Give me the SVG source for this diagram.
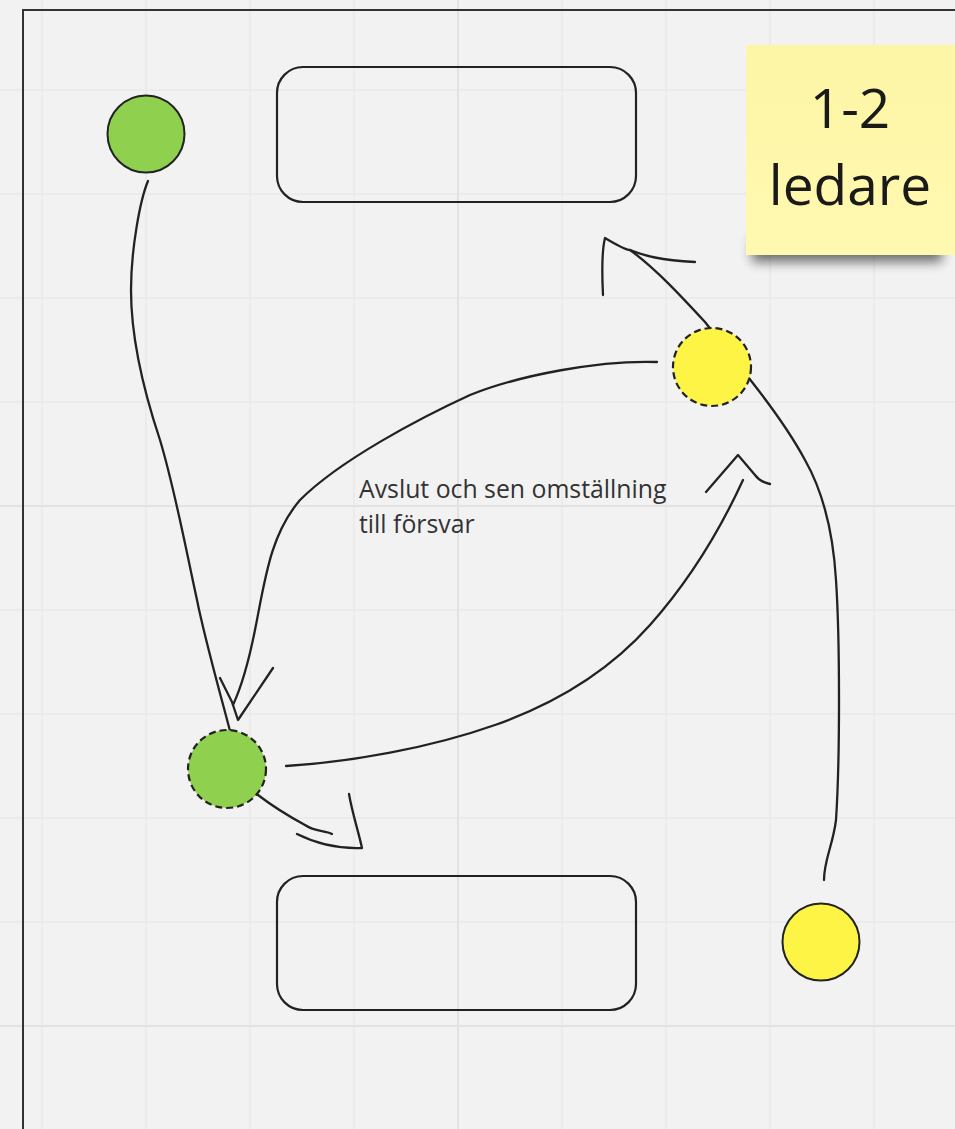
<svg xmlns="http://www.w3.org/2000/svg" width="955" height="1129" viewBox="0 0 955 1129">
<defs>
<style>
.grid{stroke:#e9e9e9;stroke-width:1.5}
.major{stroke:#e2e2e2;stroke-width:2}
.edge{fill:none;stroke:#222;stroke-width:2.3;stroke-linecap:round;stroke-linejoin:round}
.solid{stroke:#222;stroke-width:2}
.dashed{stroke:#222;stroke-width:2.2;stroke-dasharray:7 4}
.box{fill:none;stroke:#222;stroke-width:2.2}
.green{fill:#8fd14f}
.yellow{fill:#fef445}
.lbl{font-family:"Open Sans","Noto Sans",sans-serif;fill:#333;font-size:24.8px}
.sticky-t{font-family:"Open Sans","Noto Sans",sans-serif;fill:#1a1a1a;font-size:55px;text-anchor:middle}
</style>
<filter id="sh" x="-20%" y="-60%" width="140%" height="220%">
<feGaussianBlur stdDeviation="6"/>
</filter>
<linearGradient id="stk" x1="0" y1="0" x2="0" y2="1">
<stop offset="0" stop-color="#fdf6a6"/>
<stop offset="1" stop-color="#fff8b0"/>
</linearGradient>
</defs>
<rect width="955" height="1129" fill="#f2f2f2"/>
<g id="grid">
<path class="grid" d="M42,0V1129M146,0V1129M250,0V1129M354,0V1129M562,0V1129M666,0V1129M770,0V1129M874,0V1129M0,90H955M0,194H955M0,298H955M0,402H955M0,610H955M0,714H955M0,818H955M0,922H955"/>
<path class="major" d="M458,0V1129M0,506H955M0,1026H955"/>
</g>
<path id="frame" d="M23,1129V10H955" fill="none" stroke="#333" stroke-width="2"/>
<g id="connectors">
<path class="edge" d="M148,181 C140,200 131,250 131,290 C131,340 145,395 160,440 C175,490 185,545 197,600 C205,640 222,700 230,731"/>
<path class="edge" d="M657,362 C600,360 520,375 470,395 C420,418 340,460 300,500 C270,535 265,580 255,630 C248,665 240,690 233,705"/>
<path class="edge" d="M220,678 L232,702 L238,720 L273,668"/>
<path class="edge" d="M286,766 C350,762 430,748 495,725 C560,702 610,670 650,625 C690,580 720,530 743,480"/>
<path class="edge" d="M706,492 L738,455 L755,475 Q760,482 770,484"/>
<path class="edge" d="M824,880 C824,860 833,845 836,820 C840,760 840,640 836,580 C833,530 822,490 805,460 C790,432 770,405 752,382 L705,322 C680,295 655,268 630,250"/>
<path class="edge" d="M603,295 C602,275 602,250 605,238 C615,244 625,250 630,250 C645,256 660,260 695,262"/>
<path class="edge" d="M258,795 C275,808 292,818 305,825 C315,832 325,830 332,834"/>
<path class="edge" d="M297,834 C315,843 335,849 362,848 C358,830 352,812 349,794"/>
</g>
<g id="node-green-top"><circle class="green solid" cx="146" cy="134" r="38.5"/></g>
<g id="node-rect-top"><rect class="box" x="277" y="67" width="359" height="135" rx="26"/></g>
<g id="node-sticky">
<rect x="752" y="238" width="190" height="24" fill="#000" opacity="0.55" filter="url(#sh)"/>
<rect x="746" y="45" width="209" height="210" fill="url(#stk)"/>
<text class="sticky-t" x="850" y="128">1-2</text>
<text class="sticky-t" x="850" y="205">ledare</text>
</g>
<g id="node-yellow-dashed"><circle class="yellow dashed" cx="712" cy="367" r="39"/></g>
<g id="node-green-dashed"><circle class="green dashed" cx="227" cy="769" r="39"/></g>
<g id="node-rect-bottom"><rect class="box" x="277" y="876" width="359" height="134" rx="26"/></g>
<g id="node-yellow-bottom"><circle class="yellow solid" cx="821" cy="942" r="38.5"/></g>
<g id="label">
<text class="lbl" x="359" y="498">Avslut och sen omställning</text>
<text class="lbl" x="359" y="533">till försvar</text>
</g>
</svg>
